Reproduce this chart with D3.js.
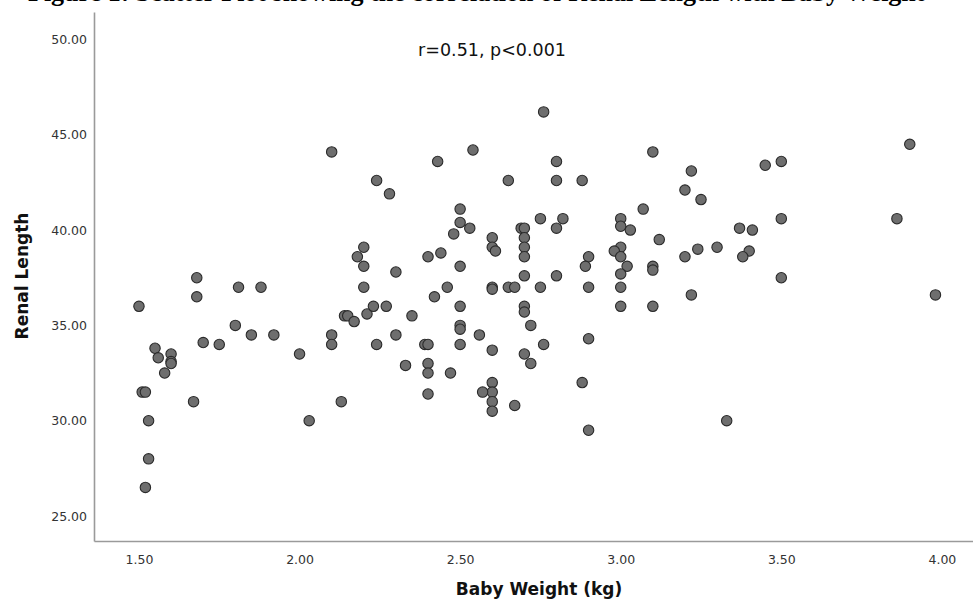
<!DOCTYPE html>
<html>
<head>
<meta charset="utf-8">
<script src="https://cdn.jsdelivr.net/npm/d3@7"></script>
<style>
  body { margin: 0; background: #fff; }
  .axis path { stroke: #9a9a9a; stroke-width: 1.6; }
  .axis text { font-family: "DejaVu Sans", sans-serif; font-size: 12.5px; fill: #333; }
</style>
</head>
<body>
<div class="chart"></div>
<script>
// values (kg, renal length)
const babyWeight = [
  1.50, 1.55, 1.56, 1.60, 1.60, 1.60, 1.58, 1.51, 1.52, 1.67,
  1.53, 1.53, 1.52, 1.68, 1.68, 1.81, 1.88, 1.80, 1.85, 1.92,
  1.70, 1.75, 2.00, 2.03, 2.10, 2.10, 2.13, 2.14, 2.15, 2.17,
  2.21, 2.23, 2.27, 2.20, 2.24, 2.30, 2.35, 2.42, 2.46, 2.33,
  2.39, 2.40, 2.40, 2.40, 2.40, 2.47, 2.50, 2.50, 2.50, 2.50,
  2.56, 2.60, 2.60, 2.65, 2.67, 2.60, 2.60, 2.60, 2.60, 2.60,
  2.57, 2.67, 2.70, 2.70, 2.72, 2.76, 2.70, 2.72, 2.75, 2.90,
  3.00, 3.00, 3.10, 3.22, 2.90, 2.88, 2.90, 3.33, 3.90, 3.45,
  3.50, 3.25, 3.50, 3.86, 3.37, 3.41, 3.24, 3.30, 3.40, 3.38,
  3.50, 3.98, 2.10, 2.43, 2.24, 2.28, 2.48, 2.20, 2.18, 2.20,
  2.30, 2.40, 2.44, 2.76, 2.54, 2.80, 3.10, 3.22, 3.20, 2.65,
  2.80, 2.88, 2.50, 2.50, 2.53, 3.07, 2.75, 2.82, 3.00, 3.00,
  3.03, 2.69, 2.70, 2.80, 2.60, 2.60, 2.61, 2.70, 2.70, 2.70,
  2.70, 2.50, 2.80, 2.90, 2.89, 3.00, 2.98, 3.00, 3.02, 3.00,
  3.10, 3.10, 3.12, 3.20
];
const renalLength = [
  36.0, 33.8, 33.3, 33.5, 33.1, 33.0, 32.5, 31.5, 31.5, 31.0,
  30.0, 28.0, 26.5, 37.5, 36.5, 37.0, 37.0, 35.0, 34.5, 34.5,
  34.1, 34.0, 33.5, 30.0, 34.5, 34.0, 31.0, 35.5, 35.5, 35.2,
  35.6, 36.0, 36.0, 37.0, 34.0, 34.5, 35.5, 36.5, 37.0, 32.9,
  34.0, 34.0, 33.0, 32.5, 31.4, 32.5, 36.0, 35.0, 34.8, 34.0,
  34.5, 37.0, 36.9, 37.0, 37.0, 33.7, 32.0, 31.5, 31.0, 30.5,
  31.5, 30.8, 36.0, 35.7, 35.0, 34.0, 33.5, 33.0, 37.0, 37.0,
  37.0, 36.0, 36.0, 36.6, 34.3, 32.0, 29.5, 30.0, 44.5, 43.4,
  43.6, 41.6, 40.6, 40.6, 40.1, 40.0, 39.0, 39.1, 38.9, 38.6,
  37.5, 36.6, 44.1, 43.6, 42.6, 41.9, 39.8, 39.1, 38.6, 38.1,
  37.8, 38.6, 38.8, 46.2, 44.2, 43.6, 44.1, 43.1, 42.1, 42.6,
  42.6, 42.6, 41.1, 40.4, 40.1, 41.1, 40.6, 40.6, 40.6, 40.2,
  40.0, 40.1, 40.1, 40.1, 39.6, 39.1, 38.9, 39.6, 39.1, 38.6,
  37.6, 38.1, 37.6, 38.6, 38.1, 39.1, 38.9, 38.6, 38.1, 37.7,
  38.1, 37.9, 39.5, 38.6
];
const xTicks = [1.5, 2.0, 2.5, 3.0, 3.5, 4.0];
const yTicks = [25, 30, 35, 40, 45, 50];

const data = babyWeight.map((w, i) => ({weight: w, length: renalLength[i]}));

let outerWidth = 973, outerHeight = 601;
let svg = d3.select('.chart').append('svg')
    .attr('width', outerWidth)
    .attr('height', outerHeight);

const xScale = d3.scaleLinear()
    .domain([1.36, 4.10])
    .range([94, 974]);

const yScale = d3.scaleLinear()
    .domain([23.69, 51.44])
    .range([541, 12]);

// title sits mostly above the top edge, only the lower part shows
svg.append("text")
    .attr("x", 28)
    .attr("y", 1)
    .attr("font-family", "Liberation Serif, serif")
    .attr("font-weight", "bold")
    .attr("font-size", 26)
    .text("Figure 1: Scatter Plot showing the correlation of Renal Length with Baby Weight");

let xAxis = d3.axisBottom(xScale)
    .tickValues(xTicks)
    .tickFormat(d3.format(".2f"))
    .tickSize(0)
    .tickPadding(14);

let yAxis = d3.axisLeft(yScale)
    .tickValues(yTicks)
    .tickFormat(d3.format(".2f"))
    .tickSize(0)
    .tickPadding(7);

svg.append("g")
    .attr("class", "axis x-axis")
    .attr("transform", "translate(0,541)")
    .call(xAxis);

svg.append("g")
    .attr("class", "axis y-axis")
    .attr("transform", "translate(94,0)")
    .call(yAxis);

svg.selectAll('circle')
    .data(data)
    .enter()
    .append('circle')
    .attr('cx', d => xScale(d.weight))
    .attr('cy', d => yScale(d.length))
    .attr('r', 5.2)
    .attr('fill', '#6e6e6e')
    .attr('stroke', '#2a2a2a')
    .attr('stroke-width', 1.1);

svg.append("text")
    .attr("x", 492)
    .attr("y", 56)
    .attr("text-anchor", "middle")
    .attr("font-family", "DejaVu Sans, sans-serif")
    .attr("font-size", 17.5)
    .attr("fill", "#111")
    .text("r=0.51, p<0.001");

svg.append("text")
    .attr("x", 539)
    .attr("y", 595)
    .attr("text-anchor", "middle")
    .attr("font-family", "DejaVu Sans, sans-serif")
    .attr("font-weight", "bold")
    .attr("font-size", 17)
    .attr("fill", "#111")
    .text("Baby Weight (kg)");

svg.append("text")
    .attr("transform", "translate(28,276) rotate(-90)")
    .attr("text-anchor", "middle")
    .attr("font-family", "DejaVu Sans, sans-serif")
    .attr("font-weight", "bold")
    .attr("font-size", 17)
    .attr("fill", "#111")
    .text("Renal Length");
</script>
</body>
</html>
